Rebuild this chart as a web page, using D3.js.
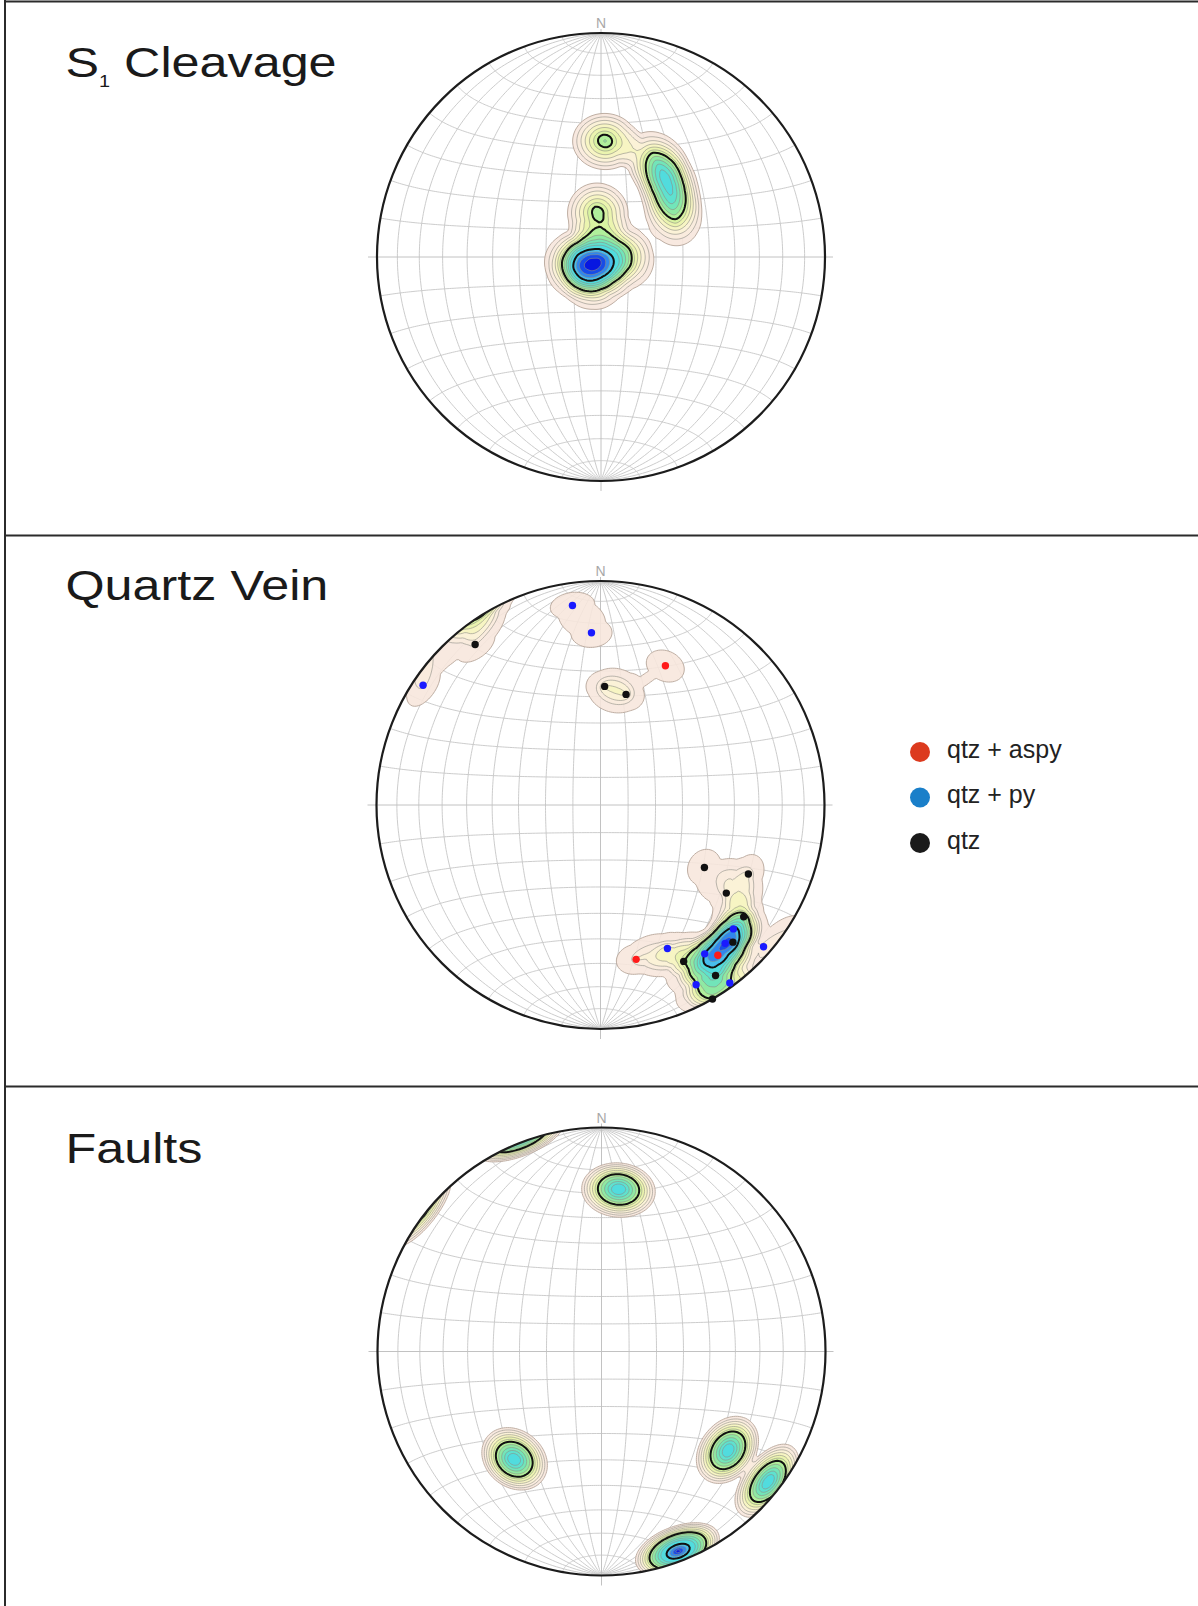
<!DOCTYPE html>
<html>
<head>
<meta charset="utf-8">
<title>Stereonets: S1 cleavage, quartz veins and faults</title>
<script src="https://cdnjs.cloudflare.com/ajax/libs/d3/7.8.5/d3.min.js"></script>
<style>
  html, body { margin: 0; padding: 0; background: #fff; }
  svg { display: block; }
</style>
</head>
<body>
<svg id="fig" width="1198" height="1606"></svg>
<script>
// ---------------- data: poles as [trend, plunge] in degrees ----------------
const cleavagePoles = [
  [243, 86], [225, 89], [247, 82], [211, 84], [281, 85], [169, 85], [276, 81], [342, 87],
  [225, 80], [90, 88], [248, 79], [104, 82], [63, 83], [108, 80], [79, 80], [260, 78],
  [198, 80], [186, 80],
  [356, 74], [356, 74], [353, 72], [359, 76],
  [2, 47], [2, 47], [1, 46], [3, 48],
  [26, 47], [29, 49], [32, 50], [35, 51], [38, 52], [41, 53], [45, 54], [48, 55], [51, 57], [55, 58],
  [60, 59], [66, 60]
];

// quartz veins, by mineral assemblage
const veinAspyPoles = [[25, 32], [142, 16], [167, 30]];
const veinPyPoles = [
  [352, 11], [357, 24], [304, 5], [133, 20], [138, 18], [145, 20],
  [152, 10], [144, 2], [131, 4], [155, 30]
];
const veinQtzPoles = [
  [322, 10], [2, 46], [13, 48], [121, 45], [115, 28], [125, 32],
  [128, 20], [136, 16], [152, 22], [146, 9], [150, 0]
];

const faultPoles = [
  [6, 28], [6, 28], [6, 28], [6, 28], [5, 29], [7, 27],
  [219, 38], [219, 38], [219, 38], [219, 38], [218, 39], [220, 37],
  [128, 29], [128, 29], [128, 29], [128, 29], [127, 30], [129, 28],
  [128, 6], [128, 6], [128, 6], [128, 6], [127, 7], [129, 6],
  [159, 5], [159, 5], [159, 5], [159, 5], [159, 5], [158, 4], [160, 5], [159, 6]
];

// contour thresholds of the smoothed pole density
const cleavageLevels = [0.5, 0.95, 1.4, 1.85, 2.3, 2.75, 3.2, 3.7, 4.2, 4.7, 5.2, 6.0, 6.7, 7.3, 7.9];
const veinLevels = [0.5, 0.95, 1.15, 1.35, 1.55, 1.75, 1.9, 2.1, 2.3, 2.5, 2.7, 2.95, 3.25, 3.55, 3.85];
const faultLevels = [0.5, 0.9, 1.3, 1.7, 2.1, 2.5, 2.9, 3.4, 3.9, 4.4, 4.9, 5.9, 6.5, 7.0, 7.4];
const boldLevelIndex = [6, 11];

const legendLabels = ["qtz + aspy", "qtz + py", "qtz"];
const legendColors = ["#dc3a1e", "#1a7fc9", "#1a1a1a"];
const pointColors = ["#ff1a1a", "#1a1aff", "#111111"];

const levelColors = [
  "#f7e6dc", "#f9ecdd", "#fbf2d6", "#f6f5c0", "#e9f4ac", "#d5f2a0", "#aaee9a", "#8ae8a4",
  "#6ee4bc", "#5ce0d2", "#50dbe0", "#46b8ee", "#2c80ee", "#1444e6", "#0610e0"
];

// ---------------- geometry ----------------
const R = 224;            // net radius in px
const CONE = 12.5;        // half-width of the linear smoothing kernel, degrees
const rad = Math.PI / 180;

// [east, north, down] unit vector of a line
function toVec(trend, plunge) {
  const t = trend * rad, p = plunge * rad;
  return [Math.cos(p) * Math.sin(t), Math.cos(p) * Math.cos(t), Math.sin(p)];
}
// lower-hemisphere equal-area (Schmidt) projection into the unit disk
function project(v) {
  let [e, n, d] = v;
  if (d < 0) { e = -e; n = -n; d = -d; }
  const s = 1 / Math.sqrt(1 + d);
  return [e * s, n * s];
}
function unproject(x, y) {
  const r2 = x * x + y * y;
  if (r2 >= 1) { const r = Math.sqrt(r2); return [x / r, y / r, 0]; }
  const s = Math.sqrt(2 - r2);
  return [x * s, y * s, 1 - r2];
}

const svg = d3.select("#fig");
const defs = svg.append("defs");

// ---------------- frame ----------------
const frame = svg.append("g").attr("stroke", "#2b2b2b").attr("stroke-width", 2);
frame.append("line").attr("x1", 5).attr("x2", 1198).attr("y1", 1.5).attr("y2", 1.5);
frame.append("line").attr("x1", 5).attr("x2", 5).attr("y1", 0).attr("y2", 1606);
frame.append("line").attr("x1", 5).attr("x2", 1198).attr("y1", 535.5).attr("y2", 535.5);
frame.append("line").attr("x1", 5).attr("x2", 1198).attr("y1", 1086.5).attr("y2", 1086.5);

// ---------------- one stereonet ----------------
function stereonet(id, cx, cy, poleSets, levels) {
  const sx = d3.scaleLinear().domain([-1, 1]).range([cx - R, cx + R]);
  const sy = d3.scaleLinear().domain([-1, 1]).range([cy + R, cy - R]);
  const g = svg.append("g").attr("class", "net-" + id);

  defs.append("clipPath").attr("id", "clip-" + id)
    .append("circle").attr("cx", cx).attr("cy", cy).attr("r", R);

  // Schmidt net: great circles through N-S and small circles about N-S, every 10 degrees
  const ts = d3.range(0, 180.5, 1);
  const gridLines = [];
  for (let dip = 10; dip <= 80; dip += 10) {
    for (const s of [1, -1]) {
      gridLines.push(ts.map(t => project([
        s * Math.sin(t * rad) * Math.cos(dip * rad), Math.cos(t * rad), Math.sin(t * rad) * Math.sin(dip * rad)
      ])));
    }
  }
  for (let a = 10; a <= 170; a += 10) {
    if (a === 90) continue;
    gridLines.push(ts.map(u => project([
      Math.sin(a * rad) * Math.cos(u * rad), Math.cos(a * rad), Math.sin(a * rad) * Math.sin(u * rad)
    ])));
  }
  const line = d3.line().x(d => sx(d[0])).y(d => sy(d[1]));
  g.append("g").attr("fill", "none").attr("stroke", "#c6c6c6").attr("stroke-width", 0.9)
    .selectAll("path").data(gridLines).join("path").attr("d", line);

  // diameters, running a little past the primitive
  const axes = g.append("g").attr("stroke", "#c2c2c2").attr("stroke-width", 1);
  axes.append("line").attr("x1", cx).attr("x2", cx).attr("y1", sy(1) - 4).attr("y2", sy(-1) + 10);
  axes.append("line").attr("x1", sx(-1) - 9).attr("x2", sx(1) + 8).attr("y1", cy).attr("y2", cy);

  g.append("text").attr("x", cx).attr("y", sy(1) - 5).attr("text-anchor", "middle")
    .attr("font-family", "Liberation Sans, Arial, sans-serif").attr("font-size", 14)
    .attr("fill", "#a8a8a8").text("N");

  // smoothed density of all poles on the sphere (axial data, linear kernel)
  const allPoles = poleSets.flat();
  const vecs = allPoles.map(p => toVec(p[0], p[1]));
  const cell = 2, pad = 6;
  const n = Math.ceil((2 * R + 2 * pad) / cell) + 1;
  const x0 = sx(-1) - pad, y0 = sy(1) - pad;
  const values = new Float64Array(n * n);
  for (let j = 0; j < n; j++) {
    const uy = sy.invert(y0 + j * cell);
    for (let i = 0; i < n; i++) {
      const v = unproject(sx.invert(x0 + i * cell), uy);
      let s = 0;
      for (const q of vecs) {
        const c = Math.min(1, Math.abs(v[0] * q[0] + v[1] * q[1] + v[2] * q[2]));
        const ang = Math.acos(c) / rad;
        if (ang < CONE) s += 1 - ang / CONE;
      }
      values[j * n + i] = s;
    }
  }
  const bands = d3.contours().size([n, n]).thresholds(levels)(values);
  const gp = d3.geoPath(d3.geoIdentity().scale(cell).translate([x0 - cell / 2, y0 - cell / 2]));

  const cg = g.append("g").attr("clip-path", `url(#clip-${id})`);
  cg.selectAll("path.fill").data(bands).join("path").attr("class", "fill")
    .attr("d", gp)
    .attr("fill", (d, i) => levelColors[i])
    .attr("fill-opacity", 0.88)
    .attr("stroke", (d, i) => i === 0 ? "#b7a69a" : "#8f8f86")
    .attr("stroke-width", (d, i) => i === 0 ? 0.9 : 0.6);
  cg.selectAll("path.bold").data(bands.filter((d, i) => boldLevelIndex.includes(i))).join("path")
    .attr("class", "bold").attr("d", gp)
    .attr("fill", "none").attr("stroke", "#111").attr("stroke-width", 2);

  // primitive circle
  g.append("circle").attr("cx", cx).attr("cy", cy).attr("r", R)
    .attr("fill", "none").attr("stroke", "#1c1c1c").attr("stroke-width", 2.2);

  return { g, sx, sy };
}

function title(x, y, parts) {
  const t = svg.append("text")
    .attr("transform", `translate(${x},${y}) scale(1.17,1)`)
    .attr("font-family", "Liberation Sans, Arial, sans-serif")
    .attr("font-size", 43).attr("fill", "#1a1a1a");
  parts(t);
}

// ---------------- S1 cleavage ----------------
stereonet("cleavage", 601, 257, [cleavagePoles], cleavageLevels);
title(65.5, 76.5, t => {
  t.append("tspan").text("S");
  t.append("tspan").attr("font-size", 17).attr("dy", 10).text("1");
  t.append("tspan").attr("dy", -10).text(" Cleavage");
});

// ---------------- quartz veins ----------------
const vein = stereonet("vein", 600.5, 805, [veinAspyPoles, veinPyPoles, veinQtzPoles], veinLevels);
title(65.5, 600, t => t.text("Quartz Vein"));
[veinAspyPoles, veinPyPoles, veinQtzPoles].forEach((set, k) => {
  vein.g.append("g").selectAll("circle").data(set).join("circle")
    .attr("cx", d => vein.sx(project(toVec(d[0], d[1]))[0]))
    .attr("cy", d => vein.sy(project(toVec(d[0], d[1]))[1]))
    .attr("r", 3.7).attr("fill", pointColors[k]);
});
const legend = svg.append("g").attr("font-family", "Liberation Sans, Arial, sans-serif").attr("font-size", 25);
legendLabels.forEach((lab, i) => {
  const y = 752 + i * 45.5;
  legend.append("circle").attr("cx", 920).attr("cy", y).attr("r", 10).attr("fill", legendColors[i]);
  legend.append("text").attr("x", 947).attr("y", y + 5.5).attr("fill", "#222").text(lab);
});

// ---------------- faults ----------------
stereonet("faults", 601.5, 1351.5, [faultPoles], faultLevels);
title(65.5, 1162.5, t => t.text("Faults"));
</script>
</body>
</html>
